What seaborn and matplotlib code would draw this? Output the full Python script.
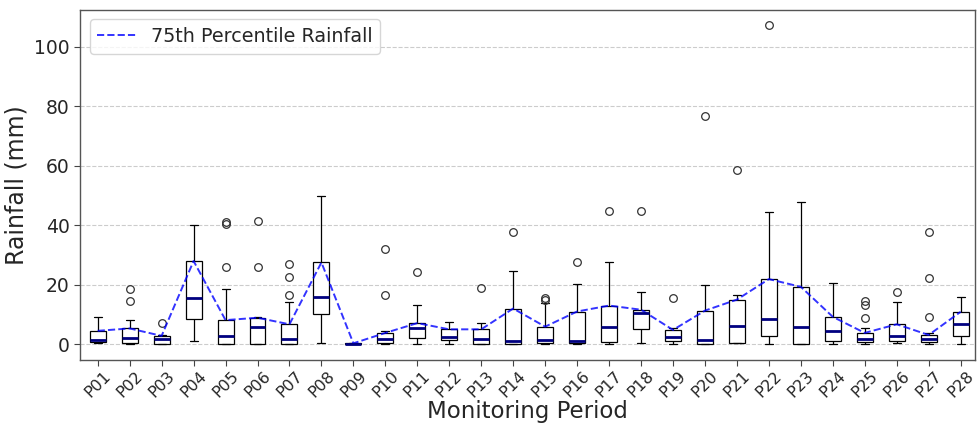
import numpy as np
import pandas as pd
import matplotlib
matplotlib.use("Agg")
import matplotlib.pyplot as plt
import seaborn as sns

# Rainfall readings (mm) for each monitoring period
p01 = [0.3, 0.4, 0.5, 0.6, 0.7, 0.9, 1.0, 1.2, 1.4, 2.0, 3.1, 3.8, 4.5, 5.2, 6.4, 7.8, 9.2]
p02 = [0.2, 0.2, 0.3, 0.3, 0.4, 0.8, 1.2, 1.7, 2.1, 2.9, 3.6, 4.4, 5.3, 6.2, 8.1, 14.7, 18.6]
p03 = [0.0, 0.0, 0.1, 0.1, 0.2, 0.6, 1.1, 1.5, 1.9, 2.2, 2.4, 2.6, 2.8, 2.9, 3.0, 3.1, 7.1]
p04 = [1.2, 3.5, 5.8, 7.1, 8.4, 10.3, 12.0, 14.2, 15.6, 18.9, 22.4, 25.7, 28.0, 30.6, 33.9, 37.5, 40.2]
p05 = [0.0, 0.0, 0.1, 0.1, 0.2, 0.7, 1.4, 2.2, 2.9, 4.1, 5.6, 6.9, 8.1, 18.6, 26.1, 40.3, 41.2]
p06 = [0.2, 0.2, 0.2, 0.2, 0.2, 1.8, 3.4, 4.6, 5.7, 6.8, 7.6, 8.4, 8.9, 8.9, 9.0, 26.1, 41.4]
p07 = [0.0, 0.1, 0.1, 0.2, 0.2, 0.6, 0.9, 1.3, 1.8, 2.9, 4.2, 5.5, 6.7, 14.3, 16.6, 22.5, 26.9]
p08 = [0.3, 3.8, 6.9, 8.7, 10.2, 11.8, 13.3, 14.6, 15.9, 18.4, 21.7, 24.9, 27.5, 31.2, 36.8, 43.5, 50.0]
p09 = [0.0, 0.0, 0.0, 0.1, 0.1, 0.1, 0.2, 0.2, 0.2, 0.2, 0.3, 0.3, 0.3, 0.3, 0.4, 0.4, 0.4]
p10 = [0.1, 0.2, 0.3, 0.3, 0.4, 0.8, 1.1, 1.5, 1.9, 2.4, 2.9, 3.4, 3.8, 4.0, 4.4, 16.4, 32.0]
p11 = [0.1, 0.6, 1.2, 1.6, 2.0, 3.1, 4.0, 4.8, 5.5, 6.0, 6.4, 6.8, 7.1, 8.5, 10.2, 13.1, 24.3]
p12 = [0.1, 0.5, 0.9, 1.2, 1.4, 1.7, 2.0, 2.3, 2.5, 3.1, 3.8, 4.4, 5.0, 5.6, 6.3, 7.0, 7.6]
p13 = [0.0, 0.0, 0.0, 0.0, 0.0, 0.4, 0.8, 1.3, 1.7, 2.6, 3.5, 4.3, 5.0, 5.8, 6.5, 7.1, 18.9]
p14 = [0.0, 0.1, 0.1, 0.1, 0.1, 0.3, 0.5, 0.8, 1.0, 3.6, 6.9, 9.8, 12.0, 15.3, 19.6, 24.7, 37.7]
p15 = [0.2, 0.2, 0.3, 0.3, 0.4, 0.7, 0.9, 1.1, 1.3, 2.4, 3.6, 4.8, 5.9, 8.2, 14.0, 14.9, 15.6]
p16 = [0.1, 0.2, 0.2, 0.3, 0.3, 0.5, 0.7, 0.9, 1.1, 3.8, 6.5, 8.9, 11.0, 13.7, 16.8, 20.3, 27.6]
p17 = [0.2, 0.4, 0.6, 0.8, 0.9, 2.1, 3.4, 4.7, 5.8, 7.9, 9.6, 11.4, 13.0, 16.2, 21.5, 27.5, 44.8]
p18 = [0.4, 1.9, 3.2, 4.3, 5.0, 6.8, 8.4, 9.7, 10.6, 10.9, 11.1, 11.4, 11.6, 12.8, 14.9, 17.4, 44.9]
p19 = [0.2, 0.5, 0.8, 1.0, 1.2, 1.6, 1.9, 2.2, 2.5, 3.1, 3.7, 4.3, 4.8, 5.0, 5.2, 5.4, 15.7]
p20 = [0.0, 0.1, 0.1, 0.2, 0.2, 0.5, 0.8, 1.0, 1.3, 4.2, 7.0, 9.3, 11.3, 13.8, 16.5, 19.9, 76.7]
p21 = [0.3, 0.3, 0.4, 0.4, 0.4, 1.8, 3.2, 4.9, 6.2, 8.9, 11.3, 13.4, 15.0, 15.6, 16.1, 16.7, 58.6]
p22 = [0.2, 0.8, 1.5, 2.1, 2.6, 4.1, 5.7, 7.2, 8.5, 11.6, 15.0, 18.7, 21.9, 27.4, 33.8, 44.5, 107.4]
p23 = [0.0, 0.0, 0.0, 0.0, 0.0, 1.2, 2.8, 4.3, 5.7, 9.1, 12.6, 16.2, 19.3, 24.8, 31.5, 39.2, 48.0]
p24 = [0.1, 0.3, 0.6, 0.8, 1.0, 1.9, 2.8, 3.7, 4.6, 5.8, 7.0, 8.1, 9.2, 11.6, 14.3, 17.2, 20.7]
p25 = [0.2, 0.4, 0.5, 0.7, 0.8, 1.0, 1.2, 1.5, 1.7, 2.3, 2.8, 3.3, 3.8, 5.5, 8.7, 13.2, 14.7]
p26 = [0.3, 0.5, 0.7, 0.9, 1.1, 1.6, 2.0, 2.5, 2.9, 3.9, 4.9, 5.8, 6.7, 8.6, 11.2, 14.1, 17.5]
p27 = [0.2, 0.4, 0.5, 0.7, 0.8, 1.1, 1.3, 1.6, 1.8, 2.2, 2.5, 2.8, 3.1, 3.6, 9.2, 22.2, 37.8]
p28 = [0.2, 0.9, 1.6, 2.2, 2.7, 3.8, 4.9, 5.9, 6.8, 7.9, 8.9, 9.9, 10.9, 12.1, 13.3, 14.6, 15.8]

period_labels = [f"P{i:02d}" for i in range(1, 29)]
period_values = [p01, p02, p03, p04, p05, p06, p07, p08, p09, p10, p11, p12, p13, p14,
                 p15, p16, p17, p18, p19, p20, p21, p22, p23, p24, p25, p26, p27, p28]

df = pd.DataFrame(
    [(lab, v) for lab, vals in zip(period_labels, period_values) for v in vals],
    columns=["Period", "Rainfall"],
)
q75 = df.groupby("Period", sort=False)["Rainfall"].quantile(0.75).reindex(period_labels)

sns.set_style("white")
plt.rcParams["font.family"] = ["DejaVu Sans"]

fig = plt.figure(figsize=(9.77, 4.28), dpi=100)
ax = fig.add_axes([0.082, 0.159, 0.916, 0.818])

sns.boxplot(
    data=df, x="Period", y="Rainfall", order=period_labels, ax=ax,
    width=0.5, color="white", linecolor="black", linewidth=0.9,
    medianprops={"color": "#000080", "linewidth": 2},
    flierprops={"marker": "o", "markerfacecolor": "none",
                "markeredgecolor": "#333333", "markersize": 5.5,
                "markeredgewidth": 0.9},
)

sns.lineplot(
    x=np.arange(len(period_labels)), y=q75.values, ax=ax,
    color="blue", linestyle="--", linewidth=1.4, alpha=0.8,
    label="75th Percentile Rainfall",
)

ax.set_xlim(-0.55, 27.45)
ax.set_ylim(-5.3, 112.5)
ax.set_yticks([0, 20, 40, 60, 80, 100])
ax.yaxis.grid(True, linestyle="--", color="#cccccc", linewidth=0.8)
ax.set_axisbelow(True)
ax.tick_params(axis="y", labelsize=13.5, length=4, left=True, color="#444444")
ax.tick_params(axis="x", labelsize=11.5, length=4, pad=2, bottom=True, color="#444444")
plt.setp(ax.get_xticklabels(), rotation=45)
for s in ax.spines.values():
    s.set_color("#555555")
    s.set_linewidth(1.0)

ax.set_xlabel("Monitoring Period", fontsize=16.5, labelpad=0)
ax.set_ylabel("Rainfall (mm)", fontsize=17)
ax.legend(loc="upper left", fontsize=13.8, frameon=True, handlelength=2.0)

fig.savefig("out.png", dpi=100)
